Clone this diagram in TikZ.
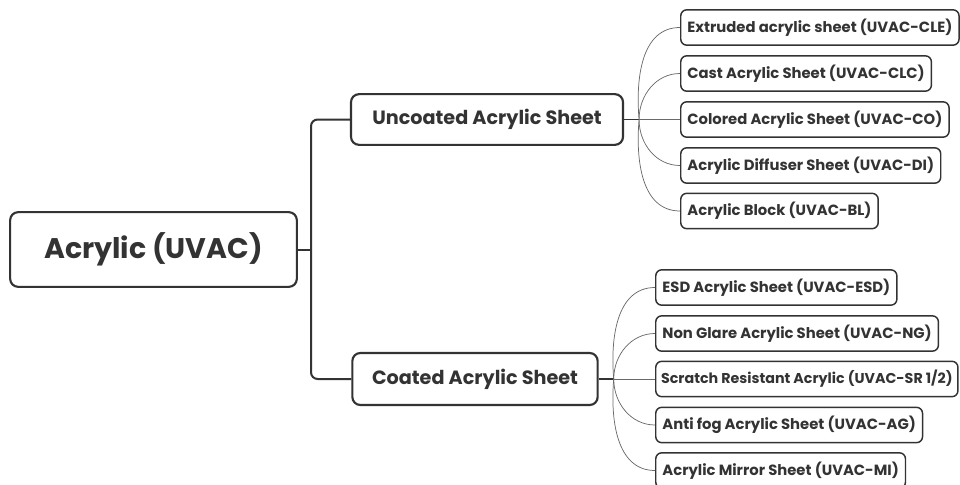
\documentclass[tikz,border=0pt]{standalone}
\usepackage{fontspec}
\setmainfont{Poppins}
\usepackage{tikz}
\usetikzlibrary{positioning}
\definecolor{ink}{HTML}{333333}
\definecolor{twig}{HTML}{6A6A6A}

\begin{document}
\begin{tikzpicture}[x=0.75pt,y=-0.75pt,
  mainbox/.style={draw=ink,text=ink,line width=1.6pt,rounded corners=6pt,font=\bfseries},
  leaf/.style={draw=ink,text=ink,line width=1.1pt,rounded corners=4.5pt,anchor=west,
    minimum height=26.5pt,inner xsep=5pt,font=\bfseries\fontsize{11.1}{13}\selectfont},
  trunk/.style={draw=ink,line width=1.5pt},
  branch/.style={draw=twig,line width=0.55pt}]
\useasboundingbox (0,0) rectangle (960,485);
% main boxes
\node[mainbox,minimum width=215pt,minimum height=56pt,font=\bfseries\fontsize{21.3}{25}\selectfont] (root) at (153.5,249.5) {Acrylic (UVAC)};
\node[mainbox,minimum width=204pt,minimum height=38pt,font=\bfseries\fontsize{14.4}{17}\selectfont] (unc) at (487,119.5) {Uncoated Acrylic Sheet};
\node[mainbox,minimum width=184pt,minimum height=39pt,font=\bfseries\fontsize{14.4}{17}\selectfont] (coa) at (475,379) {Coated Acrylic Sheet};
% leaves, uncoated
\node[leaf] (cle) at (680,27.5) {Extruded acrylic sheet (UVAC-CLE)};
\node[leaf] (clc) at (680,73.5) {Cast Acrylic Sheet (UVAC-CLC)};
\node[leaf] (co) at (680,119.5) {Colored Acrylic Sheet (UVAC-CO)};
\node[leaf] (di) at (680,165.5) {Acrylic Diffuser Sheet (UVAC-DI)};
\node[leaf] (bl) at (680,211) {Acrylic Block (UVAC-BL)};
% leaves, coated
\node[leaf] (esd) at (655,287.5) {ESD Acrylic Sheet (UVAC-ESD)};
\node[leaf] (ng) at (655,333.5) {Non Glare Acrylic Sheet (UVAC-NG)};
\node[leaf,inner xsep=4pt,font=\bfseries\fontsize{10.7}{13}\selectfont] (sr) at (655,379) {Scratch Resistant Acrylic (UVAC-SR 1/2)};
\node[leaf] (ag) at (655,425) {Anti fog Acrylic Sheet (UVAC-AG)};
\node[leaf] (mi) at (655,470.5) {Acrylic Mirror Sheet (UVAC-MI)};
% trunk
\coordinate (fork) at (311,249.5);
\draw[trunk] (root.east) -- (fork);
\draw[trunk,rounded corners=5pt] (unc.west) -| (fork) |- (coa.west);
% branches
\draw[trunk,line width=1.1pt] (unc.east) -- ++(15,0) coordinate (hu);
\draw[trunk,line width=1.1pt] (coa.east) -- ++(15,0) coordinate (hc);
\draw[branch] (hu) to[out=95,in=180] (cle.west);
\draw[branch] (hu) to[out=90,in=180] (clc.west);
\draw[branch] (hu) -- (co.west);
\draw[branch] (hu) to[out=-90,in=180] (di.west);
\draw[branch] (hu) to[out=-95,in=180] (bl.west);
\draw[branch] (hc) to[out=95,in=180] (esd.west);
\draw[branch] (hc) to[out=90,in=180] (ng.west);
\draw[branch] (hc) -- (sr.west);
\draw[branch] (hc) to[out=-90,in=180] (ag.west);
\draw[branch] (hc) to[out=-95,in=180] (mi.west);
\end{tikzpicture}
\end{document}
